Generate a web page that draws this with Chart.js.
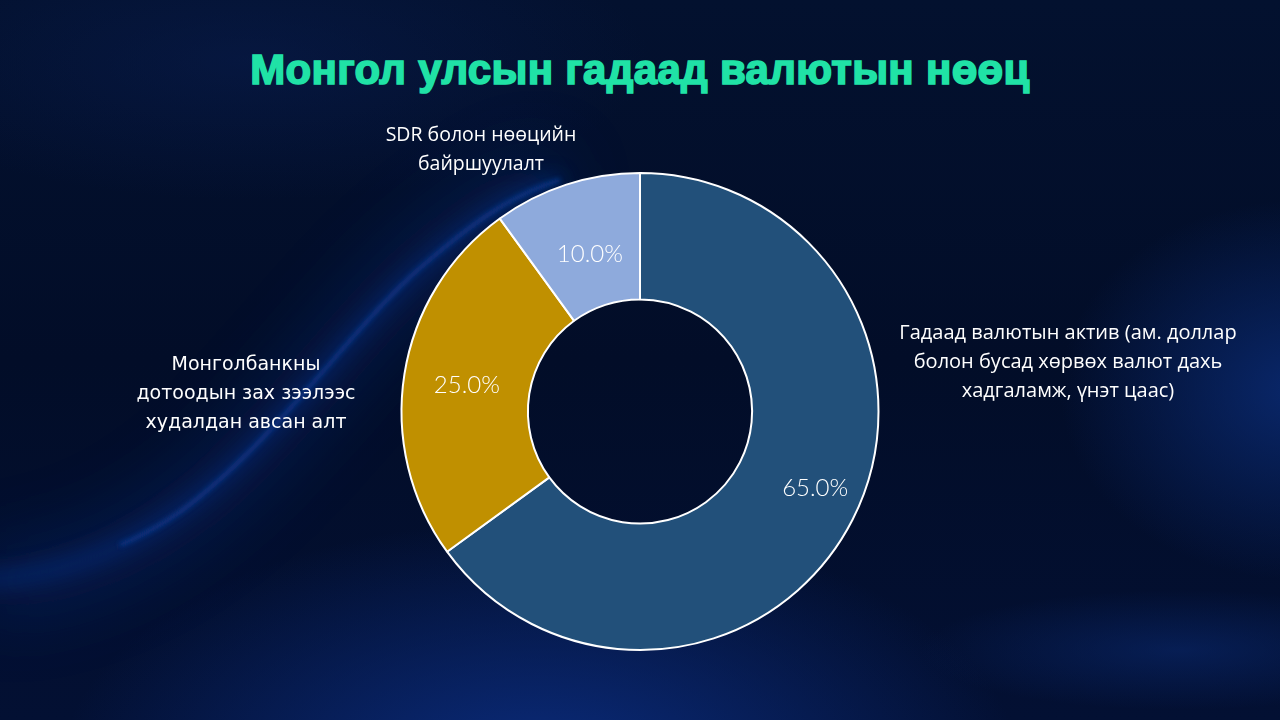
<!DOCTYPE html>
<html>
<head>
<meta charset="utf-8">
<script src="https://cdn.jsdelivr.net/npm/chart.js@4.4.0/dist/chart.umd.min.js"></script>
<style>
  html, body { margin:0; padding:0; width:1280px; height:720px; overflow:hidden; background:#020c27; }
  #bg { position:absolute; left:0; top:0; width:1280px; height:720px; }
  #title { position:absolute; left:0; top:46px; width:1280px; text-align:center;
    font-family:"Liberation Sans", Arial, sans-serif; font-weight:700; font-size:42px;
    color:#20e2a6; -webkit-text-stroke:1.6px #20e2a6; letter-spacing:0.3px; }
  #wrap { position:absolute; left:0; top:0; width:1280px; height:720px; }
</style>
</head>
<body>
<svg id="bg" width="1280" height="720" viewBox="0 0 1280 720">
  <defs>
    <linearGradient id="base" x1="0" y1="0" x2="0" y2="1">
      <stop offset="0" stop-color="#03112f"/>
      <stop offset="0.5" stop-color="#020d28"/>
      <stop offset="1" stop-color="#031033"/>
    </linearGradient>
    <radialGradient id="gB" cx="0.5" cy="0.5" r="0.5">
      <stop offset="0" stop-color="#0b2d80" stop-opacity="0.95"/>
      <stop offset="1" stop-color="#0b2d80" stop-opacity="0"/>
    </radialGradient>
    <radialGradient id="gR" cx="0.5" cy="0.5" r="0.5">
      <stop offset="0" stop-color="#0a2a72" stop-opacity="0.9"/>
      <stop offset="1" stop-color="#0a2a72" stop-opacity="0"/>
    </radialGradient>
    <radialGradient id="gT" cx="0.5" cy="0.5" r="0.5">
      <stop offset="0" stop-color="#0a1f55" stop-opacity="0.45"/>
      <stop offset="1" stop-color="#0a1f55" stop-opacity="0"/>
    </radialGradient>
    <filter id="b40" x="-50%" y="-50%" width="200%" height="200%"><feGaussianBlur stdDeviation="35"/></filter>
    <filter id="b12" x="-50%" y="-50%" width="200%" height="200%"><feGaussianBlur stdDeviation="10"/></filter>
    <filter id="b3" x="-50%" y="-50%" width="200%" height="200%"><feGaussianBlur stdDeviation="2.5"/></filter>
  </defs>
  <rect width="1280" height="720" fill="url(#base)"/>
  <ellipse cx="540" cy="770" rx="480" ry="250" fill="url(#gB)"/>
  <ellipse cx="1300" cy="390" rx="240" ry="190" fill="url(#gR)"/>
  <ellipse cx="250" cy="60" rx="400" ry="140" fill="url(#gT)"/>
  <ellipse cx="1180" cy="650" rx="260" ry="60" fill="url(#gR)" opacity="0.6"/>
  <path d="M -20 585 C 80 580, 150 540, 210 490 C 290 420, 360 320, 420 268 C 470 225, 510 195, 560 180" stroke="#0a2d80" stroke-width="60" fill="none" opacity="0.4" filter="url(#b40)"/>
  <path d="M -20 580 C 80 576, 150 536, 210 488 C 290 420, 360 320, 420 268 C 470 225, 510 195, 560 180" stroke="#0b3794" stroke-width="12" fill="none" opacity="0.55" filter="url(#b12)"/>
  <path d="M 120 545 C 160 528, 185 510, 210 488 C 290 420, 360 320, 420 268 C 470 225, 510 195, 560 180" stroke="#0d3c98" stroke-width="4" fill="none" opacity="0.8" filter="url(#b3)"/>
</svg>
<div id="title">Монгол улсын гадаад валютын нөөц</div>
<div id="wrap"><canvas id="c" width="1280" height="720"></canvas></div>
<script>
const categories = [
  ["Гадаад валютын актив (ам. доллар", "болон бусад хөрвөх валют дахь", "хадгаламж, үнэт цаас)"],
  ["Монголбанкны", "дотоодын зах зээлээс", "худалдан авсан алт"],
  ["SDR болон нөөцийн", "байршуулалт"]
];
const values = [65.0, 25.0, 10.0];
const sliceColors = ["#22507a", "#c09000", "#8eaadc"];

const labelPlugin = {
  id: 'sliceLabels',
  afterDatasetsDraw(chart, args, opts) {
    const ctx = chart.ctx;
    const meta = chart.getDatasetMeta(0);
    const total = values.reduce((a, b) => a + b, 0);
    meta.data.forEach((arc, i) => {
      const p = arc.getProps(['x','y','startAngle','endAngle','innerRadius','outerRadius']);
      const mid = (p.startAngle + p.endAngle) / 2;
      const r = (p.innerRadius + p.outerRadius) / 2;
      const x = p.x + Math.cos(mid) * r + opts.pctOffset[i][0];
      const y = p.y + Math.sin(mid) * r + opts.pctOffset[i][1];
      ctx.save();
      ctx.font = '300 24px Lato, "Open Sans", sans-serif';
      ctx.fillStyle = '#ffffff';
      ctx.textAlign = 'center';
      ctx.textBaseline = 'middle';
      ctx.fillText((values[i] / total * 100).toFixed(1) + '%', x, y);
      const lp = opts.catPos[i];
      ctx.font = opts.catFont[i];
      categories[i].forEach((ln, k) => {
        ctx.fillText(ln, lp[0], lp[1] + k * 29);
      });
      ctx.restore();
    });
  }
};

new Chart(document.getElementById('c'), {
  type: 'doughnut',
  data: {
    labels: categories.map(c => c.join(' ')),
    datasets: [{
      data: values,
      backgroundColor: sliceColors,
      borderColor: '#ffffff',
      borderWidth: 2,
      hoverOffset: 0
    }]
  },
  options: {
    responsive: false,
    animation: false,
    cutout: '47%',
    layout: { padding: { top: 172, bottom: 69, left: 0, right: 0 } },
    plugins: {
      legend: { display: false },
      tooltip: { enabled: false },
      sliceLabels: {
        pctOffset: [[19, -3], [0, 1], [4, 9]],
        catPos: [[1068, 333], [246, 365], [481, 135]],
        catFont: ['20px "Open Sans", sans-serif', '19px "DejaVu Sans", sans-serif', '19.5px "Open Sans", sans-serif']
      }
    }
  },
  plugins: [labelPlugin]
});
</script>
</body>
</html>
